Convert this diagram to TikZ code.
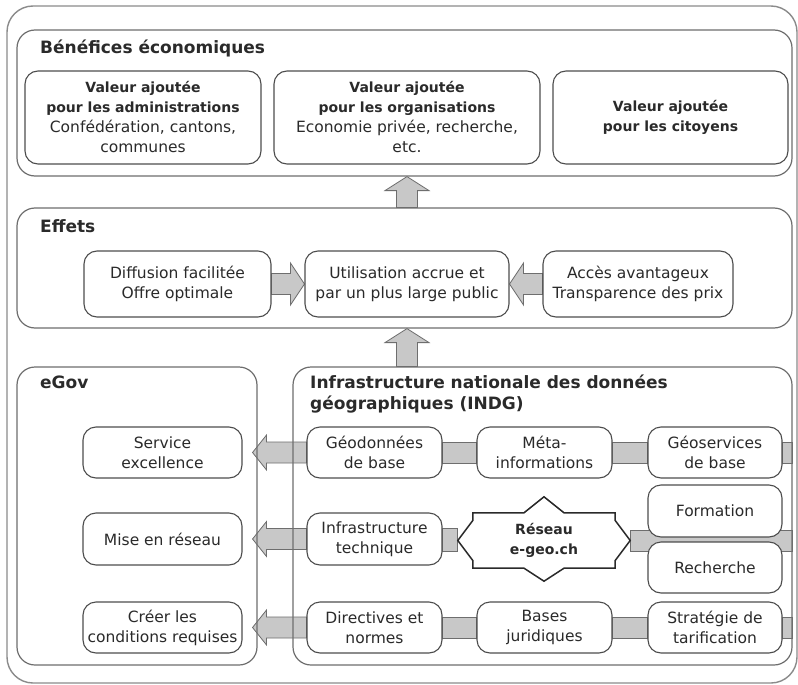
\documentclass[tikz,border=0pt]{standalone}
\usepackage{fontspec}
\setmainfont{DejaVu Sans}
\usetikzlibrary{calc}
\pgfdeclarelayer{back}
\pgfsetlayers{back,main}
\definecolor{boxline}{HTML}{4D4D4D}
\definecolor{panelline}{HTML}{6E6E6E}
\definecolor{barfill}{HTML}{C8C8C8}
\definecolor{ink}{HTML}{2A2A2A}
\newcommand{\boldline}[1]{{\fontsize{14}{20}\selectfont\bfseries #1}}

\begin{document}
\begin{tikzpicture}[x=1pt,y=-1pt,
	every node/.style={text=ink,align=center,inner sep=0pt,font=\fontsize{15.5}{20}\selectfont},
	box/.style={draw=boxline,line width=1.1pt,rounded corners=13pt,fill=white},
	panel/.style={draw=panelline,line width=1.2pt,rounded corners=18pt},
	head/.style={anchor=base west,align=left,font=\bfseries\fontsize{17}{21}\selectfont},
	bar/.style={draw=panelline,line width=0.8pt,fill=barfill},
	fat/.style={bar,to path={($(\tikztostart)!10.5pt!90:(\tikztotarget)$)
		-- ($($(\tikztotarget)!14pt!(\tikztostart)$)!10.5pt!-90:(\tikztostart)$)
		-- ($($(\tikztotarget)!14pt!(\tikztostart)$)!#1!-90:(\tikztostart)$)
		-- (\tikztotarget)
		-- ($($(\tikztotarget)!14pt!(\tikztostart)$)!#1!90:(\tikztostart)$)
		-- ($($(\tikztotarget)!14pt!(\tikztostart)$)!10.5pt!90:(\tikztostart)$)
		-- ($(\tikztostart)!10.5pt!-90:(\tikztotarget)$) -- cycle}},
	fat/.default=20pt]
	\useasboundingbox (0,0) rectangle (798,685);

	%frames
	\node[panel,draw=panelline!80,line width=1.4pt,rounded corners=26pt,minimum width=790,minimum height=677] (frame) at (402,344.5) {};
	\node[panel,minimum width=775,minimum height=146] (ben) at (404.5,103) {};
	\node[panel,minimum width=775,minimum height=120] (eff) at (404.5,268) {};
	\node[panel,minimum width=240,minimum height=298] (egov) at (137,516) {};
	\node[panel,minimum width=499,minimum height=298] (indg) at (542.5,516) {};

	%titles
	\node[head] (tben) at (40,54) {Bénéfices économiques};
	\node[head] (teff) at (40,232) {Effets};
	\node[head] (tgov) at (40,388) {eGov};
	\node[head] (tindg) at (310,409) {Infrastructure nationale des données\\géographiques (INDG)};

	%benefits
	\node[box,minimum width=236,minimum height=93] (ba) at (143,117.5) {\boldline{Valeur ajoutée}\\\boldline{pour les administrations}\\Confédération, cantons,\\communes};
	\node[box,minimum width=266,minimum height=93] (bo) at (407,117.5) {\boldline{Valeur ajoutée}\\\boldline{pour les organisations}\\Economie privée, recherche,\\etc.};
	\node[box,minimum width=235,minimum height=93] (bc) at (670.5,117.5) {\boldline{Valeur ajoutée}\\\boldline{pour les citoyens}};

	%effects
	\node[box,minimum width=187,minimum height=66] (ediff) at (177.5,284) {Diffusion facilitée\\Offre optimale};
	\node[box,minimum width=204,minimum height=66] (euse) at (407,284) {Utilisation accrue et\\par un plus large public};
	\node[box,minimum width=190,minimum height=66] (eacc) at (638,284) {Accès avantageux\\Transparence des prix};

	%egov nodes
	\node[box,minimum width=159,minimum height=51] (gserv) at (162.5,452.5) {Service\\excellence};
	\node[box,minimum width=159,minimum height=52] (gnet) at (162.5,539) {Mise en réseau};
	\node[box,minimum width=159,minimum height=51] (gcond) at (162.5,627.5) {Créer les\\conditions requises};

	%indg nodes
	\node[box,minimum width=135,minimum height=51] (igeo) at (374.5,452.5) {Géodonnées\\de base};
	\node[box,minimum width=135,minimum height=51] (imeta) at (544.5,452.5) {Méta-\\informations};
	\node[box,minimum width=134,minimum height=51] (iserv) at (715,452.5) {Géoservices\\de base};
	\node[box,minimum width=135,minimum height=52] (itech) at (374.5,539) {Infrastructure\\technique};
	\node[box,minimum width=134,minimum height=52] (iform) at (715,511) {Formation};
	\node[box,minimum width=134,minimum height=51] (irech) at (715,567.5) {Recherche};
	\node[box,minimum width=135,minimum height=51] (idir) at (374.5,627.5) {Directives et\\normes};
	\node[box,minimum width=135,minimum height=51] (ijur) at (544.5,627.5) {Bases\\juridiques};
	\node[box,minimum width=134,minimum height=51] (itar) at (715,627.5) {Stratégie de\\tarification};
	\node[minimum width=142,minimum height=55,font=\bfseries\fontsize{14}{20}\selectfont] (inet) at (544,540.5) {Réseau\\e-geo.ch};

	\coordinate (rtop) at (indg.east |- iserv.east);
	\coordinate (rmid) at (indg.east |- inet.east);
	\coordinate (rbot) at (indg.east |- itar.east);

	\begin{pgfonlayer}{back}
	\fill[white] (0,0) rectangle (798,685);

	%bars
	\draw[bar] ([yshift=10.5pt]igeo.east) rectangle ([yshift=-10.5pt]imeta.west);
	\draw[bar] ([yshift=10.5pt]imeta.east) rectangle ([yshift=-10.5pt]iserv.west);
	\draw[bar] ([yshift=10.5pt]iserv.east) rectangle ([yshift=-10.5pt]rtop);
	\draw[bar] ([yshift=10.5pt]itech.east) rectangle ([xshift=-15pt,yshift=-10.5pt]inet.west);
	\draw[bar] ([xshift=15pt,yshift=10.5pt]inet.east) rectangle ([yshift=-10.5pt]rmid);
	\draw[bar] ([yshift=10.5pt]idir.east) rectangle ([yshift=-10.5pt]ijur.west);
	\draw[bar] ([yshift=10.5pt]ijur.east) rectangle ([yshift=-10.5pt]itar.west);
	\draw[bar] ([yshift=10.5pt]itar.east) rectangle ([yshift=-10.5pt]rbot);

	%network hub
	\draw[draw=ink,line width=1.5pt,fill=white] (inet.north west) -- ([xshift=-20pt]inet.north)
		-- ([yshift=16pt]inet.north) -- ([xshift=20pt]inet.north) -- (inet.north east)
		-- ([yshift=20pt]inet.east) -- ([xshift=15pt]inet.east) -- ([yshift=-20pt]inet.east)
		-- (inet.south east) -- ([xshift=20pt]inet.south) -- ([yshift=-13pt]inet.south)
		-- ([xshift=-20pt]inet.south) -- (inet.south west) -- ([yshift=-20pt]inet.west)
		-- ([xshift=-15pt]inet.west) -- ([yshift=20pt]inet.west) -- cycle;

	%fat arrows
	\draw[fat=21pt] (ediff.east) to (euse.west);
	\draw[fat=21pt] (eacc.west) to (euse.east);
	\draw[fat=22pt] (indg.north -| euse) to (eff.south -| euse);
	\draw[fat=22pt] (eff.north -| euse) to (ben.south -| euse);
	\draw[fat=17.5pt] (igeo.west) to ([xshift=10pt]gserv.east);
	\draw[fat=17.5pt] (itech.west) to ([xshift=10pt]gnet.east);
	\draw[fat=17.5pt] (idir.west) to ([xshift=10pt]gcond.east);
	\end{pgfonlayer}
\end{tikzpicture}
\end{document}
